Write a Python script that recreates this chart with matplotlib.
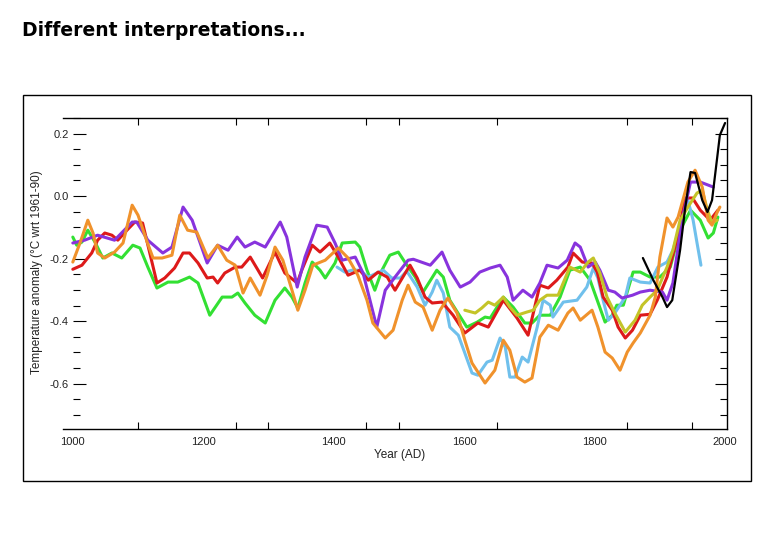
import matplotlib.pyplot as plt
import numpy as np
from matplotlib.patches import Rectangle
from matplotlib.ticker import FixedLocator

plt.rcParams["axes.unicode_minus"] = False

# reconstructions (year, anomaly in degC)
purple_years = [1000, 1018, 1038, 1064, 1091, 1098, 1115, 1138, 1152, 1169, 1183, 1206, 1222, 1238,
                1252, 1264, 1279, 1295, 1318, 1328, 1344, 1356, 1374, 1390, 1402, 1413, 1433, 1445,
                1466, 1479, 1494, 1514, 1522, 1548, 1566, 1578, 1594, 1609, 1624, 1640, 1655, 1666,
                1675, 1690, 1704, 1716, 1727, 1744, 1758, 1770, 1778, 1790, 1801, 1808, 1821, 1831,
                1842, 1858, 1870, 1885, 1904, 1911, 1920, 1934, 1947, 1962, 1982]
purple_vals = [-0.150, -0.141, -0.125, -0.141, -0.083, -0.083, -0.141, -0.182, -0.163, -0.035,
               -0.077, -0.214, -0.157, -0.173, -0.131, -0.163, -0.147, -0.163, -0.083, -0.131,
               -0.291, -0.195, -0.093, -0.099, -0.150, -0.205, -0.195, -0.246, -0.419, -0.301,
               -0.259, -0.205, -0.202, -0.221, -0.179, -0.237, -0.291, -0.275, -0.243, -0.230,
               -0.221, -0.259, -0.333, -0.301, -0.323, -0.278, -0.221, -0.230, -0.205, -0.150,
               -0.163, -0.227, -0.211, -0.237, -0.301, -0.307, -0.326, -0.317, -0.307, -0.301,
               -0.307, -0.333, -0.278, -0.077, 0.045, 0.045, 0.029]

red_years = [1000, 1014, 1029, 1038, 1049, 1060, 1069, 1083, 1095, 1107, 1118, 1129, 1141, 1156,
             1169, 1179, 1192, 1206, 1215, 1222, 1233, 1249, 1259, 1272, 1284, 1291, 1310, 1325,
             1344, 1351, 1367, 1379, 1394, 1407, 1422, 1440, 1453, 1468, 1482, 1494, 1506, 1517,
             1528, 1540, 1551, 1566, 1583, 1601, 1621, 1637, 1660, 1681, 1698, 1716, 1729, 1742,
             1759, 1767, 1781, 1796, 1804, 1813, 1827, 1836, 1847, 1858, 1870, 1885, 1896, 1911,
             1927, 1939, 1950, 1962, 1977, 1989]
red_vals = [-0.234, -0.221, -0.182, -0.141, -0.118, -0.125, -0.141, -0.109, -0.083, -0.086,
            -0.182, -0.278, -0.262, -0.230, -0.182, -0.182, -0.214, -0.262, -0.259, -0.278,
            -0.246, -0.227, -0.227, -0.195, -0.237, -0.262, -0.179, -0.246, -0.278, -0.237,
            -0.157, -0.179, -0.150, -0.195, -0.253, -0.237, -0.269, -0.243, -0.259, -0.301,
            -0.259, -0.221, -0.262, -0.323, -0.342, -0.339, -0.381, -0.438, -0.406, -0.419,
            -0.333, -0.390, -0.445, -0.285, -0.294, -0.269, -0.227, -0.182, -0.211, -0.214,
            -0.243, -0.323, -0.365, -0.419, -0.454, -0.429, -0.381, -0.378, -0.333, -0.259,
            -0.131, -0.006, -0.006, -0.045, -0.077, -0.045]

green_years = [1000, 1006, 1014, 1023, 1034, 1046, 1060, 1075, 1092, 1103, 1115, 1129, 1146, 1161,
               1179, 1192, 1210, 1229, 1244, 1253, 1264, 1279, 1295, 1310, 1325, 1336, 1345, 1356,
               1367, 1379, 1387, 1402, 1413, 1433, 1440, 1451, 1463, 1474, 1486, 1499, 1509, 1525,
               1537, 1558, 1568, 1578, 1604, 1620, 1632, 1640, 1660, 1675, 1693, 1704, 1716, 1732,
               1747, 1762, 1778, 1793, 1805, 1816, 1827, 1834, 1844, 1859, 1870, 1885, 1900, 1916,
               1931, 1947, 1962, 1974, 1982, 1989]
green_vals = [-0.131, -0.157, -0.147, -0.109, -0.147, -0.198, -0.182, -0.198, -0.157, -0.166,
              -0.227, -0.294, -0.275, -0.275, -0.259, -0.278, -0.381, -0.323, -0.323, -0.310,
              -0.342, -0.381, -0.406, -0.333, -0.294, -0.323, -0.358, -0.278, -0.211, -0.237,
              -0.262, -0.214, -0.150, -0.147, -0.163, -0.237, -0.301, -0.237, -0.189, -0.179,
              -0.211, -0.259, -0.307, -0.237, -0.259, -0.333, -0.419, -0.403, -0.387, -0.390,
              -0.323, -0.355, -0.406, -0.406, -0.381, -0.381, -0.323, -0.237, -0.227, -0.269,
              -0.339, -0.403, -0.381, -0.349, -0.349, -0.243, -0.243, -0.259, -0.259, -0.227,
              -0.109, -0.045, -0.077, -0.134, -0.118, -0.067]

orange_years = [1000, 1011, 1023, 1031, 1038, 1049, 1064, 1077, 1091, 1100, 1114, 1123, 1137, 1152,
                1164, 1176, 1190, 1207, 1222, 1236, 1249, 1261, 1272, 1287, 1298, 1310, 1322, 1336,
                1345, 1356, 1368, 1387, 1407, 1422, 1437, 1451, 1460, 1479, 1491, 1505, 1514, 1525,
                1537, 1551, 1563, 1575, 1589, 1601, 1612, 1632, 1647, 1660, 1670, 1681, 1693, 1704,
                1716, 1729, 1744, 1759, 1767, 1778, 1796, 1805, 1816, 1827, 1839, 1850, 1859, 1870,
                1885, 1893, 1900, 1911, 1920, 1928, 1943, 1954, 1965, 1974, 1980, 1988, 1992]
orange_vals = [-0.211, -0.150, -0.077, -0.118, -0.182, -0.198, -0.179, -0.150, -0.029, -0.061,
               -0.147, -0.198, -0.198, -0.189, -0.061, -0.109, -0.115, -0.198, -0.157, -0.205,
               -0.221, -0.310, -0.262, -0.317, -0.253, -0.163, -0.205, -0.301, -0.365, -0.301,
               -0.221, -0.205, -0.166, -0.198, -0.253, -0.333, -0.406, -0.454, -0.429, -0.333,
               -0.285, -0.339, -0.355, -0.429, -0.365, -0.326, -0.374, -0.461, -0.534, -0.598,
               -0.557, -0.461, -0.493, -0.579, -0.595, -0.582, -0.451, -0.413, -0.429, -0.374,
               -0.358, -0.397, -0.365, -0.419, -0.499, -0.518, -0.557, -0.499, -0.470, -0.438,
               -0.381, -0.323, -0.195, -0.070, -0.099, -0.067, 0.045, 0.083, 0.029, -0.077,
               -0.093, -0.051, -0.035]

blue_years = [1405, 1417, 1428, 1440, 1453, 1466, 1476, 1489, 1502, 1512, 1528, 1540, 1551, 1558,
              1568, 1578, 1591, 1601, 1612, 1621, 1635, 1643, 1655, 1663, 1670, 1678, 1689, 1698,
              1712, 1721, 1732, 1736, 1752, 1773, 1788, 1798, 1805, 1813, 1821, 1831, 1847, 1854,
              1870, 1885, 1897, 1911, 1920, 1934, 1943, 1951, 1957, 1963]
blue_vals = [-0.227, -0.243, -0.237, -0.237, -0.259, -0.246, -0.237, -0.262, -0.262, -0.240,
             -0.291, -0.349, -0.307, -0.269, -0.310, -0.419, -0.445, -0.502, -0.566, -0.573,
             -0.531, -0.525, -0.454, -0.483, -0.579, -0.579, -0.515, -0.531, -0.419, -0.333,
             -0.349, -0.387, -0.339, -0.333, -0.291, -0.230, -0.262, -0.333, -0.397, -0.374,
             -0.323, -0.262, -0.275, -0.278, -0.227, -0.211, -0.173, -0.077, -0.013, -0.077,
             -0.150, -0.221]

yellow_years = [1601, 1617, 1627, 1637, 1647, 1660, 1670, 1681, 1696, 1706, 1716, 1727, 1744, 1762,
                1778, 1790, 1798, 1808, 1819, 1831, 1847, 1862, 1873, 1885, 1896, 1911, 1920, 1931,
                1943, 1957, 1965, 1973, 1980, 1988]
yellow_vals = [-0.365, -0.374, -0.358, -0.339, -0.349, -0.323, -0.355, -0.381, -0.371, -0.365,
               -0.333, -0.317, -0.317, -0.227, -0.243, -0.211, -0.198, -0.246, -0.323, -0.374,
               -0.435, -0.397, -0.349, -0.323, -0.301, -0.227, -0.173, -0.077, -0.035, 0.010,
               0.019, -0.045, -0.086, -0.077]

# instrumental record
black_years = [1874, 1890, 1904, 1911, 1919, 1931, 1939, 1947, 1954, 1965, 1973, 1980, 1988, 1992, 2000]
black_vals = [-0.198, -0.269, -0.323, -0.355, -0.333, -0.173, -0.035, 0.077, 0.074, -0.013,
              -0.051, -0.013, 0.125, 0.195, 0.234]

x_labels = [1000, 1200, 1400, 1600, 1800, 2000]
x_minor = [1100, 1250, 1300, 1450, 1500, 1600, 1650, 1800, 1850, 1950]
y_labels = [-0.6, -0.4, -0.2, 0.0, 0.2]

fig = plt.figure(figsize=(7.8, 5.4), dpi=100)
ax = fig.add_axes([0.0808, 0.2056, 0.8513, 0.5759])

series = [
    (green_years, green_vals, "#33e033", 2.2),
    (blue_years, blue_vals, "#70c0ec", 2.2),
    (red_years, red_vals, "#dd1a1a", 2.2),
    (purple_years, purple_vals, "#8833dd", 2.2),
    (yellow_years, yellow_vals, "#c4c428", 2.2),
    (orange_years, orange_vals, "#f0922c", 2.2),
    (black_years, black_vals, "black", 1.6),
]
for yrs, vals, col, lw in series:
    ax.plot(yrs, vals, color=col, lw=lw, solid_joinstyle="round", solid_capstyle="round")

ax.set_xlim(985, 2003)
ax.set_ylim(-0.745, 0.25)

ax.spines["left"].set_position(("data", 1000))
ax.spines["left"].set_color("none")
for s in ["top", "bottom", "right"]:
    ax.spines[s].set_linewidth(1.0)

ax.xaxis.set_major_locator(FixedLocator(x_labels))
ax.xaxis.set_minor_locator(FixedLocator(x_minor))
ax.set_xticklabels([str(v) for v in x_labels])
ax.tick_params(axis="x", which="major", length=0, pad=6)
ax.tick_params(axis="x", which="minor", direction="in", length=5, width=0.8, top=True, bottom=True)

ax.yaxis.set_major_locator(FixedLocator(y_labels))
ax.yaxis.set_minor_locator(FixedLocator(np.arange(-0.70, 0.26, 0.05)))
ax.set_yticklabels([f"{v:.1f}" for v in y_labels])
ax.tick_params(axis="y", which="major", direction="in", length=9, width=0.8, pad=3,
               left=True, right=True)
ax.tick_params(axis="y", which="minor", direction="in", length=5, width=0.8,
               left=True, right=True)

for lab in ax.get_xticklabels() + ax.get_yticklabels():
    lab.set_fontfamily("Liberation Sans")
    lab.set_fontsize(8)
    lab.set_color("#222222")

fig.text(400 / 780, 1 - 455 / 540, "Year (AD)", ha="center", va="center",
         family="Liberation Sans", fontsize=8.5, color="#222222")
fig.text(37 / 780, 1 - 272 / 540, "Temperature anomaly (\u00b0C wrt 1961-90)", rotation=90,
         ha="center", va="center", family="Liberation Sans", fontsize=8.5, color="#222222")

fig.add_artist(Rectangle((23 / 780, 1 - 481 / 540), (751 - 23) / 780, (481 - 95) / 540,
                         transform=fig.transFigure, fill=False, lw=1.0, color="black"))

fig.text(22 / 780, 1 - 31 / 540, "Different interpretations...", ha="left", va="center",
         fontweight="bold", fontsize=13.5)

fig.savefig("out.png", dpi=100)
